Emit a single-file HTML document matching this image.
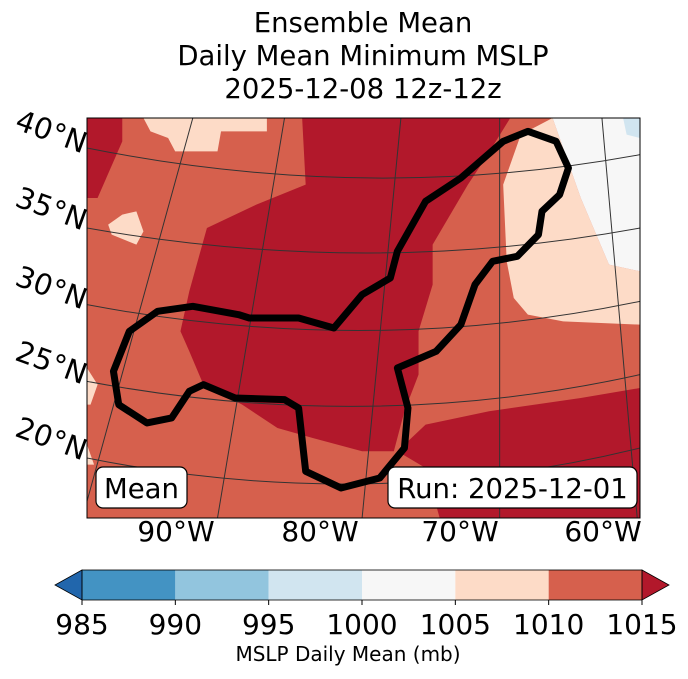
<!DOCTYPE html>
<html><head><meta charset="utf-8"><style>
body{margin:0;background:#fff;font-family:"Liberation Sans","DejaVu Sans",sans-serif}
#c{position:relative;width:688px;height:674px}
</style></head><body>
<div id="c">
<svg width="688" height="674" xmlns="http://www.w3.org/2000/svg" id="svg">
<g font-family="DejaVu Sans, Liberation Sans, sans-serif" font-size="27.5" text-anchor="middle" fill="#000">
<text x="363" y="32">Ensemble Mean</text>
<text x="363" y="65">Daily Mean Minimum MSLP</text>
<text x="363" y="98">2025-12-08 12z-12z</text>
</g>
<defs><clipPath id="mc"><rect x="87" y="118" width="553" height="400"/></clipPath></defs>
<g clip-path="url(#mc)">
<rect x="87" y="118" width="553" height="400" fill="#d6604d"/>
<g transform="translate(87,118) scale(0.3527,0.3333)">
<polygon fill="#b2182b" points="610,0 1200,0 1130,120 1080,200 980,380 980,500 940,640 940,770 900,880 870,1000 780,1000 640,960 540,930 440,860 330,800 290,700 265,640 290,520 340,330 480,260 620,200"/>
<polygon fill="#b2182b" points="0,0 100,0 100,70 30,240 0,240"/>
<polygon fill="#b2182b" points="880,1000 960,920 1140,880 1400,840 1568,810 1568,1200 1000,1200 960,1050"/>
<polygon fill="#fddbc7" points="160,0 510,0 510,40 380,40 370,100 250,100 230,60 180,40"/>
<polygon fill="#fddbc7" points="1180,200 1230,50 1320,0 1400,240 1480,440 1568,460 1568,620 1350,610 1250,590 1210,540 1190,430"/>
<polygon fill="#f7f7f7" points="1320,0 1568,0 1568,460 1480,440 1400,240"/>
<polygon fill="#d1e5f0" points="1520,0 1568,0 1568,60 1530,50"/>
<polygon fill="#fddbc7" points="60,320 100,290 140,280 160,340 140,380 70,350"/>
<polygon fill="#fddbc7" points="0,750 30,800 10,860 0,860"/>
<polygon fill="#fddbc7" points="0,980 20,1040 0,1040"/>
<g fill="none" stroke="#333" stroke-width="1">
<path vector-effect="non-scaling-stroke" d="M0,90 Q800,260 1568,110"/>
<path vector-effect="non-scaling-stroke" d="M0,330 Q800,480 1568,330"/>
<path vector-effect="non-scaling-stroke" d="M0,560 Q800,720 1568,550"/>
<path vector-effect="non-scaling-stroke" d="M0,790 Q800,950 1568,770"/>
<path vector-effect="non-scaling-stroke" d="M0,1020 Q800,1190 1568,990"/>
<path vector-effect="non-scaling-stroke" d="M300,0 L0,1150"/>
<path vector-effect="non-scaling-stroke" d="M560,0 L370,1200"/>
<path vector-effect="non-scaling-stroke" d="M890,0 L780,1200"/>
<path vector-effect="non-scaling-stroke" d="M1170,0 L1170,1200"/>
<path vector-effect="non-scaling-stroke" d="M1460,0 L1560,1200"/>
</g>
<path fill="none" stroke="#000" stroke-width="7" stroke-linejoin="round" vector-effect="non-scaling-stroke" d="M700,630 L600,600 L460,600 L430,590 L300,565 L200,580 L120,640 L75,760 L90,860 L170,915 L240,900 L290,820 L330,800 L420,840 L560,845 L600,870 L620,1060 L720,1110 L830,1080 L900,990 L910,870 L880,750 L990,700 L1060,620 L1100,500 L1150,430 L1220,415 L1280,350 L1290,280 L1340,230 L1365,150 L1330,70 L1250,40 L1180,70 L1060,180 L960,250 L880,400 L860,480 L780,530 Z"/>
</g>
</g>
<rect x="87" y="118" width="553" height="400" fill="none" stroke="#000" stroke-width="1"/>
<g>
<rect x="96" y="467" width="91" height="41" rx="7" fill="#fff" stroke="#000" stroke-width="1.2"/>
<text x="141.5" y="498" font-size="27.5" text-anchor="middle" font-family="DejaVu Sans, Liberation Sans, sans-serif">Mean</text>
</g>
<g>
<rect x="388" y="467" width="249" height="41" rx="7" fill="#fff" stroke="#000" stroke-width="1.2"/>
<text x="512.5" y="498" font-size="27.5" text-anchor="middle" font-family="DejaVu Sans, Liberation Sans, sans-serif">Run: 2025-12-01</text>
</g>
<g font-family="DejaVu Sans, Liberation Sans, sans-serif" font-size="29">
<text transform="translate(48,141) rotate(20)" text-anchor="middle">40°N</text>
<text transform="translate(48,218) rotate(20)" text-anchor="middle">35°N</text>
<text transform="translate(48,297) rotate(20)" text-anchor="middle">30°N</text>
<text transform="translate(48,372) rotate(20)" text-anchor="middle">25°N</text>
<text transform="translate(48,448) rotate(20)" text-anchor="middle">20°N</text>
</g>
<g font-family="DejaVu Sans, Liberation Sans, sans-serif" font-size="28" text-anchor="middle">
<text x="176" y="541">90°W</text>
<text x="320" y="541">80°W</text>
<text x="460" y="541">70°W</text>
<text x="603" y="541">60°W</text>
</g>
<g id="cb"></g>
<text x="348" y="661" font-size="20" text-anchor="middle" font-family="DejaVu Sans, Liberation Sans, sans-serif">MSLP Daily Mean (mb)</text>
</svg>
</div>
<script>
const levels=[985,990,995,1000,1005,1010,1015];
const colors=["#4393c3","#92c5de","#d1e5f0","#f7f7f7","#fddbc7","#d6604d"];
const underColor="#2166ac", overColor="#b2182b";
const NS="http://www.w3.org/2000/svg";
const cb=document.getElementById('cb');
const x0=82,x1=642,yT=570,yB=600;
function xs(v){return x0+(v-levels[0])/(levels[levels.length-1]-levels[0])*(x1-x0);}
for(let i=0;i<colors.length;i++){
  const r=document.createElementNS(NS,'rect');
  r.setAttribute('x',xs(levels[i]));r.setAttribute('y',yT);
  r.setAttribute('width',xs(levels[i+1])-xs(levels[i]));r.setAttribute('height',yB-yT);
  r.setAttribute('fill',colors[i]);
  
  
  cb.appendChild(r);
}
const tl=document.createElementNS(NS,'polygon');
tl.setAttribute('points',`${x0},${yT} ${x0-27},${(yT+yB)/2} ${x0},${yB}`);
tl.setAttribute('fill',underColor);tl.setAttribute('stroke','#000');tl.setAttribute('stroke-width','0.8');


cb.appendChild(tl);
const tr=document.createElementNS(NS,'polygon');
tr.setAttribute('points',`${x1},${yT} ${x1+27},${(yT+yB)/2} ${x1},${yB}`);
tr.setAttribute('fill',overColor);tr.setAttribute('stroke','#000');tr.setAttribute('stroke-width','0.8');


cb.appendChild(tr);
const fr=document.createElementNS(NS,'rect');
fr.setAttribute('x',x0);fr.setAttribute('y',yT);fr.setAttribute('width',x1-x0);fr.setAttribute('height',yB-yT);
fr.setAttribute('fill','none');fr.setAttribute('stroke','#000');fr.setAttribute('stroke-width','0.8');


cb.appendChild(fr);
levels.forEach(v=>{
  const l=document.createElementNS(NS,'line');
  l.setAttribute('x1',xs(v));l.setAttribute('x2',xs(v));l.setAttribute('y1',yB);l.setAttribute('y2',yB+5);
  l.setAttribute('stroke','#000');
  
  
  cb.appendChild(l);
  const t=document.createElementNS(NS,'text');
  t.setAttribute('x',xs(v));t.setAttribute('y',634);t.setAttribute('text-anchor','middle');
  t.setAttribute('font-size','28');t.setAttribute('font-family','DejaVu Sans, Liberation Sans, sans-serif');
  t.textContent=v;
  
  
  cb.appendChild(t);
});
</script>
</body></html>
